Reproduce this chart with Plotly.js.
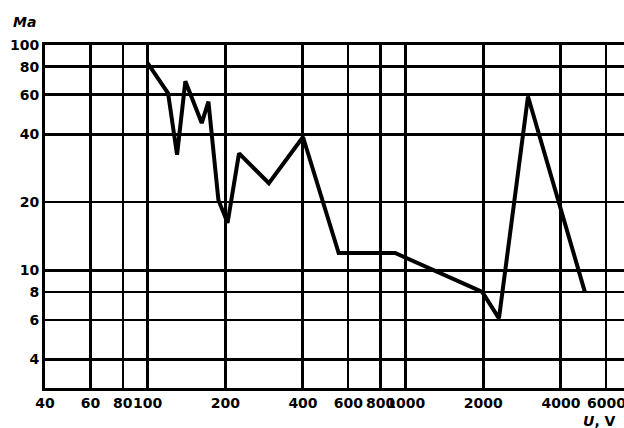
<!DOCTYPE html>
<html>
<head>
<meta charset="utf-8">
<script src="https://cdn.plot.ly/plotly-3.0.1.min.js"></script>
<style>html,body{margin:0;padding:0;background:#fff;}#chart{width:624px;height:428px;}</style>
</head>
<body>
<div id="chart"></div>
<script>
// Data (U in V, current in mA)
const voltage = [100, 120, 130, 140, 162, 172, 188, 204, 226, 295, 400, 550, 910, 1980, 2300, 2980, 4950];
const current = [83, 61, 32.5, 69, 45, 56, 20.5, 16.2, 33, 24.3, 39, 11.9, 11.9, 8.0, 6.1, 59, 8.0];

// Axis ticks
const xTicks = [40, 60, 80, 100, 200, 400, 600, 800, 1000, 2000, 4000, 6000];
const xTickText = ['40', '60', '80', '100', '200', '400', '600', '800', '1000', '2000', '4000', '6000'];
const xHeavyGrid = [40, 60, 100, 200, 400, 800, 1000, 2000, 4000];
const yTicks = [4, 6, 8, 10, 20, 40, 60, 80, 100];
const yTickText = ['4', '6', '8', '10', '20', '40', '60', '80', '100'];
const yHeavyGrid = [4, 10, 40, 60, 80, 100];

const labelFont = {family: 'DejaVu Sans, Liberation Sans, Arial, sans-serif', size: 14, color: '#000', weight: 'bold'};

const trace = {
  x: voltage, y: current, type: 'scatter', mode: 'lines',
  line: {color: '#000', width: 4}, hoverinfo: 'skip', showlegend: false
};

const layout = {
  width: 624, height: 428,
  margin: {l: 45, r: 0, t: 45, b: 40},
  paper_bgcolor: '#fff', plot_bgcolor: '#fff',
  showlegend: false,
  xaxis: {
    type: 'log', range: [Math.log10(40), Math.log10(7020)],
    tickmode: 'array', tickvals: xTicks, ticktext: xTickText,
    tickangle: 0, ticks: '', ticklen: 0, ticklabeloverflow: 'allow',
    showgrid: true, gridcolor: '#000', gridwidth: 2,
    minor: {tickmode: 'array', tickvals: xHeavyGrid, showgrid: true, gridcolor: '#000', gridwidth: 3, ticks: ''},
    showline: true, mirror: true, linecolor: '#000', linewidth: 3,
    zeroline: false, tickfont: labelFont, automargin: false
  },
  yaxis: {
    type: 'log', range: [Math.log10(2.99), 2],
    tickmode: 'array', tickvals: yTicks, ticktext: yTickText,
    ticks: '', ticklen: 0, ticklabeloverflow: 'allow',
    showgrid: true, gridcolor: '#000', gridwidth: 2,
    minor: {tickmode: 'array', tickvals: yHeavyGrid, showgrid: true, gridcolor: '#000', gridwidth: 3, ticks: ''},
    showline: true, linecolor: '#000', linewidth: 3,
    zeroline: false, tickfont: labelFont, automargin: false
  },
  annotations: [
    {xref: 'paper', yref: 'paper', x: -0.035, y: 1.067, xanchor: 'center', yanchor: 'middle',
     text: '<i>Ma</i>', showarrow: false, font: labelFont},
    {xref: 'paper', yref: 'paper', x: 0.99, y: -0.097, xanchor: 'right', yanchor: 'middle',
     text: '<i>U</i>, V', showarrow: false, font: labelFont}
  ]
};

Plotly.newPlot('chart', [trace], layout, {displayModeBar: false, staticPlot: true});
</script>
</body>
</html>
